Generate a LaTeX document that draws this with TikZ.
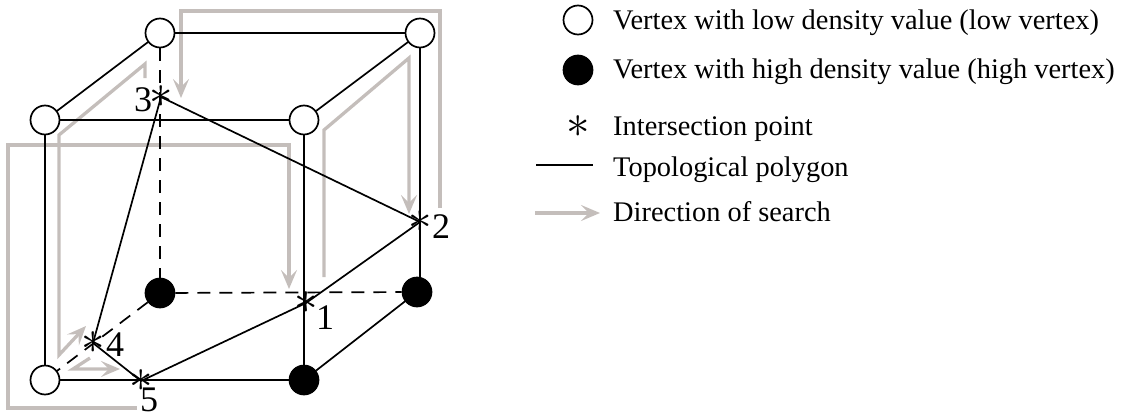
\documentclass[tikz,border=0pt]{standalone}
\usepackage{fontspec}
\setmainfont{Liberation Serif}
\usetikzlibrary{arrows.meta,positioning,calc}
\definecolor{searchgray}{HTML}{C4BEBB}
\newcommand{\isect}{\scalebox{4.7}{$\ast$}}

\begin{document}
\begin{tikzpicture}[
  x=1pt, y=-1pt,
  lowv/.style={draw, circle, line width=1.7pt, minimum size=29pt, inner sep=0pt, fill=white},
  highv/.style={lowv, fill=black},
  inter/.style={inner sep=0pt},
  polyline/.style={line width=1.7pt},
  hidden/.style={line width=1.7pt, dash pattern=on 13pt off 9pt},
  search/.style={draw=searchgray, line width=3.3pt, -{Stealth[length=19pt,width=16pt,inset=8pt]}},
  numlabel/.style={inner sep=0pt, font=\fontsize{36}{36}\selectfont},
  legendtext/.style={anchor=base west, inner sep=0pt, font=\fontsize{28.4}{28.4}\selectfont}
]
\useasboundingbox (0,0) rectangle (1122,415);

% cube corners
\coordinate (btlc) at (160,33);
\coordinate (btrc) at (420,33);
\coordinate (ftlc) at (45,120);
\coordinate (ftrc) at (304,120);
\coordinate (bblc) at (160,293);
\coordinate (bbrc) at (417,292);
\coordinate (fblc) at (45,380);
\coordinate (fbrc) at (304,380);

% search paths
\coordinate (a0) at (137,408);
\coordinate (a1) at (8,408);
\coordinate (a2) at (8,145);
\coordinate (a3) at (289,145);
\coordinate (a4) at (289,289);
\coordinate (b0) at (324,277);
\coordinate (b1) at (324,130);
\coordinate (b2) at (409,58);
\coordinate (b3) at (409,214);
\coordinate (c0) at (440,208);
\coordinate (c1) at (440,11);
\coordinate (c2) at (181,11);
\coordinate (c3) at (181,98);
\coordinate (d0) at (145,78);
\coordinate (d1) at (145,64);
\coordinate (d2) at (59,135);
\coordinate (d3) at (59,355);
\coordinate (d4) at (86,326);
\coordinate (e0) at (90,358);
\coordinate (e1) at (73,369);
\coordinate (e2) at (120,369);

\draw[search] (a0) -- (a1) -- (a2) -- (a3) -- (a4);
\draw[search] (b0) -- (b1) -- (b2) -- (b3);
\draw[search] (c0) -- (c1) -- (c2) -- (c3);
\draw[search] (d0) -- (d1) -- (d2) -- (d3) -- (d4);
\draw[search] (e0) -- (e1) -- (e2);

% intersection points
\node[inter] (p1) at (306,303) {\isect};
\node[inter] (p2) at (420,222) {\isect};
\node[inter] (p3) at (161,97) {\isect};
\node[inter] (p4) at (93,343) {\isect};
\node[inter] (p5) at (141,381) {\isect};

\node[numlabel] (n1) at (325,318) {1};
\node[numlabel] (n2) at (441,227) {2};
\node[numlabel] (n3) at (143,100) {3};
\node[numlabel] (n4) at (115,345) {4};
\node[numlabel] (n5) at (149,400) {5};

% vertices
\node[lowv] (btl) at (btlc) {};
\node[lowv] (btr) at (btrc) {};
\node[lowv] (ftl) at (ftlc) {};
\node[lowv] (ftr) at (ftrc) {};
\node[highv] (bbl) at (bblc) {};
\node[highv] (bbr) at (bbrc) {};
\node[lowv] (fbl) at (fblc) {};
\node[highv] (fbr) at (fbrc) {};

% cube edges
\draw[polyline] (btl) -- (btr);
\draw[polyline] (ftl) -- (ftr);
\draw[polyline] (btl) -- (ftl);
\draw[polyline] (btr) -- (ftr);
\draw[polyline] (ftl) -- (fbl);
\draw[polyline] (ftr) -- (fbr);
\draw[polyline] (btr.south) -- (btr.south |- bbr.north);
\draw[polyline] (fbl) -- (fbr);
\draw[polyline] (fbr) -- (bbr);
\draw[hidden] (btl) -- (bbl);
\draw[hidden] (bbl) -- (bbr);
\draw[hidden] (bbl) -- (fbl);

% polygon
\draw[polyline] (p3.center) -- (p2.center) -- (p1.center) -- (p5.center) -- (p4.center) -- (p3.center);

% legend
\node[lowv] (lowkey) at (578,20) {};
\node[highv] (highkey) at (578,70) {};
\node[inter] (interkey) at (578,127) {\isect};
\coordinate (polystart) at (536,165);
\coordinate (polyend) at (593,165);
\draw[polyline] (polystart) -- (polyend);
\coordinate (arrowstart) at (535,213);
\coordinate (arrowend) at (600,213);
\draw[search] (arrowstart) -- (arrowend);
\node[legendtext] (lowtext) at (613,29) {Vertex with low density value (low vertex)};
\node[legendtext] (hightext) at (613,78) {Vertex with high density value (high vertex)};
\node[legendtext] (intertext) at (613,135) {Intersection point};
\node[legendtext] (polytext) at (613,176) {Topological polygon};
\node[legendtext] (dirtext) at (613,221) {Direction of search};
\end{tikzpicture}
\end{document}
